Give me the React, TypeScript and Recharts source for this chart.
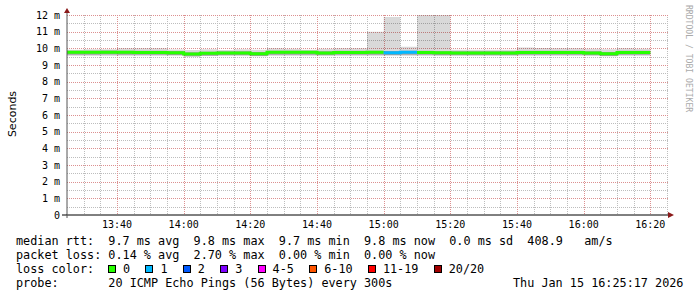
import React from 'react';
import { ComposedChart, Area, Line, XAxis, YAxis } from 'recharts';

// 5 minute bins, start time of each
const binStarts = [
  '13:25', '13:30', '13:35', '13:40', '13:45', '13:50', '13:55',
  '14:00', '14:05', '14:10', '14:15', '14:20', '14:25', '14:30', '14:35', '14:40', '14:45', '14:50', '14:55',
  '15:00', '15:05', '15:10', '15:15', '15:20', '15:25', '15:30', '15:35', '15:40', '15:45', '15:50', '15:55',
  '16:00', '16:05', '16:10', '16:15',
];
const lastBinEnd = '16:20';

// median rtt (ms)
const median = [
  9.76, 9.76, 9.77, 9.76, 9.75, 9.75, 9.74,
  9.66, 9.70, 9.72, 9.72, 9.68, 9.76, 9.76, 9.76, 9.72, 9.75, 9.75, 9.76,
  9.74, 9.76, 9.75, 9.73, 9.72, 9.72, 9.72, 9.72, 9.75, 9.75, 9.75, 9.75,
  9.72, 9.68, 9.75, 9.75,
];
// smoke: lowest and highest ping of each bin (ms)
const smokeLo = [
  9.56, 9.56, 9.55, 9.56, 9.56, 9.55, 9.55,
  9.50, 9.54, 9.56, 9.56, 9.52, 9.56, 9.56, 9.56, 9.55, 9.56, 9.56, 9.55,
  9.55, 9.56, 9.56, 9.55, 9.56, 9.56, 9.56, 9.55, 9.56, 9.56, 9.56, 9.56,
  9.55, 9.52, 9.56, 9.56,
];
const smokeHi = [
  9.92, 9.95, 9.95, 10.0, 10.0, 10.0, 9.93,
  9.90, 9.95, 9.90, 9.95, 9.92, 10.0, 9.98, 9.92, 9.98, 10.0, 10.0, 11.0,
  11.88, 10.1, 12.6, 12.6, 9.92, 9.92, 9.92, 9.92, 10.05, 10.02, 10.0, 10.0,
  9.98, 9.95, 10.0, 9.98,
];
// index into lossLabels / lossColors
const lossLevel = [
  0, 0, 0, 0, 0, 0, 0,
  0, 0, 0, 0, 0, 0, 0, 0, 0, 0, 0, 0,
  1, 1, 0, 0, 0, 0, 0, 0, 0, 0, 0, 0,
  0, 0, 0, 0,
];

const lossLabels = ['0', '1', '2', '3', '4-5', '6-10', '11-19', '20/20'];
const lossColors = ['#26ff00', '#00b8ff', '#0059ff', '#7e00ff', '#ff00ff', '#ff5500', '#ff0000', '#a10000'];

const yTicks = [0, 1, 2, 3, 4, 5, 6, 7, 8, 9, 10, 11, 12];
const xTicks = ['13:40', '14:00', '14:20', '14:40', '15:00', '15:20', '15:40', '16:00', '16:20'];

const statLines = [
  'median rtt:  9.7 ms avg  9.8 ms max  9.7 ms min  9.8 ms now  0.0 ms sd  408.9   am/s',
  'packet loss: 0.14 % avg  2.70 % max  0.00 % min  0.00 % now',
];
const probeLine = 'probe:       20 ICMP Echo Pings (56 Bytes) every 300s';
const stampText = 'Thu Jan 15 16:25:17 2026';

const toMin = (s: string) => {
  const [h, m] = s.split(':').map(Number);
  return h * 60 + m;
};
const fmtTime = (v: number) => `${Math.floor(v / 60)}:${String(v % 60).padStart(2, '0')}`;

const xStart = toMin(binStarts[0]);
const xEnd = toMin('16:25');

const usedLevels = Array.from(new Set(lossLevel));

const rows = [...binStarts, lastBinEnd].map((s, j) => {
  const k = Math.min(j, binStarts.length - 1);
  const row: Record<string, number | null> = {
    t: toMin(s),
    base: smokeLo[k],
    lower: Math.max(0, median[k] - 0.14 - smokeLo[k]),
    core: 0.24,
    upper: smokeHi[k] - (median[k] + 0.1),
  };
  usedLevels.forEach((c) => {
    let v: number | null = null;
    if (j < binStarts.length && lossLevel[j] === c) v = median[j];
    else if (j > 0 && lossLevel[j - 1] === c) v = median[j - 1];
    row[`m${c}`] = v;
  });
  return row;
});

// plot box (matches the chart margins + axis sizes below)
const W = 697;
const H = 297;
const plot = { left: 67, top: 15, right: 667, bottom: 215 };
const px = (t: number) => plot.left + ((t - xStart) / (xEnd - xStart)) * (plot.right - plot.left);
const py = (v: number) => plot.bottom - (v / 12) * (plot.bottom - plot.top);
const snap = (p: number) => Math.round(p) + 0.5;

const majorX = xTicks.map(toMin);
const minorX: number[] = [];
for (let t = xStart + 5; t <= xEnd; t += 5) if (!majorX.includes(t)) minorX.push(t);
const minorY = yTicks.slice(0, -1).map((v) => v + 0.5);

const mono = '"DejaVu Sans Mono", monospace';
const minorGrid = '#bdbdbd';
const majorGrid = '#dc9090';

export default function App() {
  let bx = 108;
  const boxes = lossLabels.map((label, i) => {
    const x = bx;
    bx += 15 + label.length * 7.1 + 15.3;
    return { label, color: lossColors[i], x };
  });

  return (
    <div style={{ position: 'relative', width: W, height: H, background: '#fff', overflow: 'hidden' }}>
      <style>{'body{margin:0}'}</style>

      {/* grid, under the chart */}
      <svg width={W} height={H} style={{ position: 'absolute', left: 0, top: 0 }} shapeRendering="crispEdges">
        {minorY.map((v) => (
          <line key={`a${v}`} x1={plot.left} x2={plot.right + 1} y1={snap(py(v))} y2={snap(py(v))} stroke={minorGrid} strokeDasharray="1 1" />
        ))}
        {minorX.map((t) => (
          <line key={`b${t}`} x1={snap(px(t))} x2={snap(px(t))} y1={plot.top} y2={plot.bottom} stroke={minorGrid} strokeDasharray="1 1" />
        ))}
        {yTicks.slice(1).map((v) => (
          <line key={`c${v}`} x1={plot.left} x2={plot.right + 1} y1={snap(py(v))} y2={snap(py(v))} stroke={majorGrid} strokeDasharray="1 1" />
        ))}
        {majorX.map((t) => (
          <line key={`d${t}`} x1={snap(px(t))} x2={snap(px(t))} y1={plot.top} y2={plot.bottom} stroke={majorGrid} strokeDasharray="1 1" />
        ))}
      </svg>

      <div style={{ position: 'absolute', left: 0, top: 0 }}>
        <ComposedChart width={W} height={H} data={rows} margin={{ top: 15, right: 30, bottom: 62, left: 7 }}>
          <XAxis
            dataKey="t"
            type="number"
            domain={[xStart, xEnd]}
            ticks={majorX}
            interval={0}
            tickFormatter={fmtTime}
            height={20}
            tickSize={0}
            tickMargin={6}
            stroke="#000"
            tick={{ fontFamily: mono, fontSize: 10, fill: '#000' }}
          />
          <YAxis
            type="number"
            domain={[0, 12]}
            ticks={yTicks}
            interval={0}
            allowDataOverflow
            tickFormatter={(v: number) => (v === 0 ? '0' : `${v} m`)}
            width={60}
            tickSize={0}
            tickMargin={7}
            stroke="#555"
            tick={{ fontFamily: mono, fontSize: 10, fill: '#000' }}
          />
          <Area dataKey="base" stackId="s" type="stepAfter" stroke="none" fill="none" isAnimationActive={false} />
          <Area dataKey="lower" stackId="s" type="stepAfter" stroke="none" fill="#000" fillOpacity={0.18} isAnimationActive={false} />
          <Area dataKey="core" stackId="s" type="stepAfter" stroke="none" fill="#000" fillOpacity={0.38} isAnimationActive={false} />
          <Area dataKey="upper" stackId="s" type="stepAfter" stroke="none" fill="#000" fillOpacity={0.15} isAnimationActive={false} />
          {usedLevels.map((c) => (
            <Line
              key={c}
              dataKey={`m${c}`}
              type="stepAfter"
              stroke={lossColors[c]}
              strokeWidth={3}
              dot={false}
              activeDot={false}
              connectNulls={false}
              isAnimationActive={false}
            />
          ))}
        </ComposedChart>
      </div>

      <svg width={W} height={H} style={{ position: 'absolute', left: 0, top: 0, pointerEvents: 'none' }}>
        <line x1={62} y1={215} x2={67} y2={215} stroke="#000" />
        <line x1={667} y1={215} x2={669} y2={215} stroke="#000" />
        <line x1={67} y1={215} x2={67} y2={218} stroke="#555" />
        <line x1={67} y1={12} x2={67} y2={15} stroke="#555" />
        <polygon points="64,13 70,13 67,8" fill="#8b1a1a" />
        <polygon points="668,212 668,218 674,215" fill="#8b1a1a" />
        <text transform="translate(16,114) rotate(-90)" textAnchor="middle" fontFamily='"DejaVu Sans", sans-serif' fontSize={11} fill="#000">
          Seconds
        </text>
        <text transform="translate(686,5) rotate(90)" fontFamily={mono} fontSize={8.1} fill="#aaa">
          RRDTOOL / TOBI OETIKER
        </text>
      </svg>

      <div style={{ position: 'absolute', left: 16, top: 234, fontFamily: mono, fontSize: 11.8, lineHeight: '14px', whiteSpace: 'pre', color: '#000' }}>
        {statLines.map((l) => (
          <div key={l}>{l}</div>
        ))}
        <div>loss color:</div>
        <div>{probeLine}</div>
      </div>
      <div style={{ position: 'absolute', left: 513, top: 276, fontFamily: mono, fontSize: 11.8, lineHeight: '14px', whiteSpace: 'pre', color: '#000' }}>
        {stampText}
      </div>
      {boxes.map((b) => (
        <React.Fragment key={b.label}>
          <div style={{ position: 'absolute', left: b.x, top: 265, width: 8, height: 8, boxSizing: 'border-box', border: '1px solid #000', background: b.color }} />
          <div style={{ position: 'absolute', left: b.x + 15, top: 262, fontFamily: mono, fontSize: 11.8, lineHeight: '14px', whiteSpace: 'pre', color: '#000' }}>
            {b.label}
          </div>
        </React.Fragment>
      ))}
    </div>
  );
}
